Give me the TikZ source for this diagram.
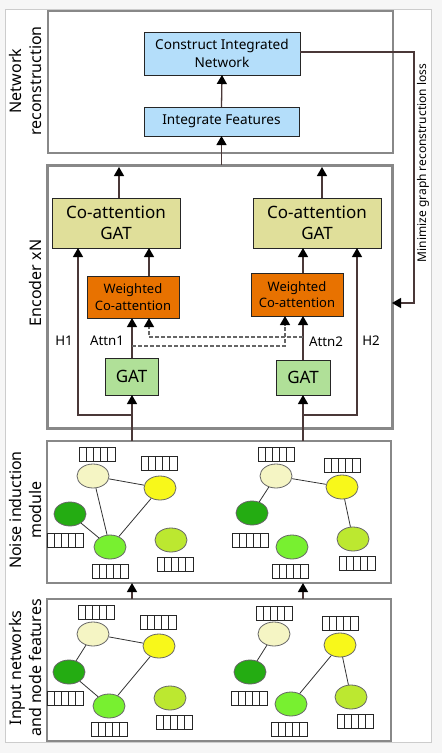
\documentclass[tikz,border=0pt]{standalone}
\usepackage{fontspec}
\setmainfont{Noto Sans}
\usetikzlibrary{arrows.meta,shapes.geometric,calc}
\definecolor{bgout}{HTML}{F6F6F6}
\definecolor{frameg}{HTML}{CCCCCC}
\definecolor{boxg}{HTML}{888888}
\definecolor{blu}{HTML}{B4DEFA}
\definecolor{kha}{HTML}{E0DF9A}
\definecolor{ora}{HTML}{E87200}
\definecolor{gatg}{HTML}{B0E098}
\definecolor{lnk}{HTML}{4A3838}
\definecolor{cpale}{HTML}{F5F5C4}
\definecolor{cyel}{HTML}{F8F81A}
\definecolor{cdg}{HTML}{24AC12}
\definecolor{clg}{HTML}{78F030}
\definecolor{cyg}{HTML}{BCE830}
\begin{document}
\begin{tikzpicture}[x=1pt,y=-1pt,
  fs/.style 2 args={font=\fontsize{#1}{#2}\selectfont},
  modbox/.style={draw=boxg, line width=2pt, outer sep=0pt, inner sep=0pt},
  cbox/.style={draw=black!85, line width=0.8pt, inner sep=0pt, align=center, outer sep=0pt},
  arr/.style={draw=lnk, line width=1.3pt, -{Triangle[width=10pt,length=9pt,color=black]}},
  dsh/.style={draw=black!60, line width=1.3pt, dash pattern=on 4pt off 2pt},
  darr/.style={dsh, -{Triangle[width=10pt,length=9pt,color=black]}},
  gnode/.style={ellipse, draw=black!60, line width=0.8pt, minimum width=32pt, minimum height=24pt, inner sep=0pt},
  gedge/.style={draw=black!80, line width=0.8pt},
  feat/.pic={\draw[black!85, line width=0.8pt] (-18,-7) rectangle (18,7);
    \foreach \i in {1,...,4} \draw[black!85, line width=0.8pt] (-18+7.2*\i,-7) -- ++(0,14);}
]
% background
\fill[bgout] (0,0) rectangle (442,753);
\useasboundingbox (0,0) rectangle (442,753);
\draw[frameg, fill=white, line width=1pt] (5,9) rectangle (431,742);

% module boxes
\node[modbox, minimum width=345pt, minimum height=142pt] (rec) at (220.5,82) {};
\node[modbox, line width=3pt, minimum width=345pt, minimum height=263pt] (enc) at (219.5,296.5) {};
\node[modbox, minimum width=344pt, minimum height=142pt] (noise) at (219,512) {};
\node[modbox, minimum width=344pt, minimum height=142pt] (inp) at (219,670) {};

% left labels
\node[fs={16}{20}, rotate=90, align=center] (lrec) at (25,81) {Network\\reconstruction};
\node[fs={16}{20}, rotate=90] (lenc) at (35,283) {Encoder xN};
\node[fs={16}{20}, rotate=90, align=center] (lnoise) at (25,510) {Noise induction\\module};
\node[fs={16}{20}, rotate=90, align=center] (linp) at (25,668) {Input networks\\and node features};

% reconstruction boxes
\node[cbox, fill=blu, fs={13.6}{18}, minimum width=156pt, minimum height=43pt] (cin) at (222,53.5) {Construct Integrated\\Network};
\node[cbox, fill=blu, fs={13.6}{18}, minimum width=155pt, minimum height=29pt] (intf) at (221.5,121.5) {Integrate Features};
\draw[arr] (intf.north) -- (cin.south);
\draw[arr] (enc.north -| intf.south) -- (intf.south);

% encoder boxes
\node[cbox, fill=kha, fs={17}{21}, minimum width=128pt, minimum height=50pt] (coL) at (116,223) {Co-attention\\GAT};
\node[cbox, fill=kha, fs={17}{21}, minimum width=128pt, minimum height=50pt] (coR) at (317,223) {Co-attention\\GAT};
\node[cbox, fill=ora, fs={13}{16.5}, minimum width=92pt, minimum height=42pt] (wL) at (133,297) {Weighted\\Co-attention};
\node[cbox, fill=ora, fs={13}{16.5}, minimum width=92pt, minimum height=43pt] (wR) at (297,294.5) {Weighted\\Co-attention};
\node[cbox, fill=gatg, fs={17}{20}, minimum width=53pt, minimum height=37pt] (gL) at (131.5,376.5) {GAT};
\node[cbox, fill=gatg, fs={17}{20}, minimum width=54pt, minimum height=35pt] (gR) at (303,377.5) {GAT};

% co-attention outputs
\draw[arr, shorten >=2pt] (coL.north -| 119,0) -- (enc.north -| 119,0);
\draw[arr, shorten >=2pt] (coR.north -| 322,0) -- (enc.north -| 322,0);
% weighted -> co-attention
\draw[arr] (wL.north -| 149,0) -- (coL.south -| 149,0);
\draw[arr] (wR.north -| 303,0) -- (coR.south -| 303,0);
% GAT -> weighted
\draw[arr] (gL.north -| 132,0) -- (wL.south -| 132,0);
\draw[arr] (gR.north -| 303,0) -- (wR.south -| 303,0);
% cross attention (dashed)
\coordinate (a2) at (303,337);
\coordinate (a1) at (132,346);
\draw[darr] (a2) -- (149,337) -- (wL.south -| 149,0);
\draw[darr] (a1) -- (285,346) -- (wR.south -| 285,0);
% residual H paths
\coordinate (hL) at (132,415);
\coordinate (hR) at (303,415);
\draw[arr] (hL) -- (78,415) -- (coL.south -| 78,0);
\draw[arr] (hR) -- (357,415) -- (coR.south -| 357,0);
% inputs into GAT
\draw[arr] (noise.north -| 132,0) -- (gL.south -| 132,0);
\draw[arr] (noise.north -| 303,0) -- (gR.south -| 303,0);
% input -> noise
\draw[arr] (inp.north -| 132,0) -- (noise.south -| 132,0);
\draw[arr] (inp.north -| 303,0) -- (noise.south -| 303,0);

% labels
\node[fs={13.3}{15}] (lh1) at (64,341) {H1};
\node[fs={13.3}{15}] (la1) at (107,341) {Attn1};
\node[fs={13.3}{15}] (la2) at (326,342) {Attn2};
\node[fs={13.3}{15}] (lh2) at (371,341) {H2};

% feedback loss
\coordinate (fb1) at (414,52);
\coordinate (fb2) at (414,303);
\draw[draw=lnk, line width=1.3pt, -{Triangle[width=10pt,length=9pt,color=black]}] (cin.east |- fb1) -- (fb1) -- (fb2) -- (enc.east |- fb2);
\node[fs={12}{15}, rotate=90] (lloss) at (423,163) {Minimize graph reconstruction loss};

% ---- noise module graphs ----
\node[gnode, fill=cpale] (npa) at (93,476) {};
\node[gnode, fill=cyel] (nye) at (160,488) {};
\node[gnode, fill=cdg] (ndg) at (70,514) {};
\node[gnode, fill=clg] (nlg) at (110,547) {};
\node[gnode, fill=cyg] (nyg) at (171,540) {};
\draw[gedge] (npa) -- (nye);
\draw[gedge] (npa) -- (nlg);
\draw[gedge] (nye) -- (nlg);
\draw[gedge] (ndg) -- (nlg);
\pic at (97,454) {feat};
\pic at (159,463) {feat};
\pic at (65,540) {feat};
\pic at (110,571) {feat};
\pic at (175,564) {feat};

\node[gnode, fill=cpale] (mpa) at (276,476) {};
\node[gnode, fill=cyel] (mye) at (342,487) {};
\node[gnode, fill=cdg] (mdg) at (252,513) {};
\node[gnode, fill=clg] (mlg) at (292,547) {};
\node[gnode, fill=cyg] (myg) at (353,539) {};
\draw[gedge] (mpa) -- (mye);
\draw[gedge] (mpa) -- (mdg);
\draw[gedge] (mye) -- (myg);
\pic at (276,454) {feat};
\pic at (342,465) {feat};
\pic at (250,540) {feat};
\pic at (290,571) {feat};
\pic at (357,563) {feat};

% ---- input graphs ----
\node[gnode, fill=cpale] (ipa) at (93,634) {};
\node[gnode, fill=cyel] (iye) at (159,646) {};
\node[gnode, fill=cdg] (idg) at (69,672) {};
\node[gnode, fill=clg] (ilg) at (109,706) {};
\node[gnode, fill=cyg] (iyg) at (170,698) {};
\draw[gedge] (ipa) -- (iye);
\draw[gedge] (ipa) -- (idg);
\draw[gedge] (idg) -- (ilg);
\draw[gedge] (iye) -- (ilg);
\pic at (96,612) {feat};
\pic at (158,622) {feat};
\pic at (65,698) {feat};
\pic at (109,729) {feat};
\pic at (174,722) {feat};

\node[gnode, fill=cpale] (jpa) at (274,634) {};
\node[gnode, fill=cyel] (jye) at (340,645) {};
\node[gnode, fill=cdg] (jdg) at (250,672) {};
\node[gnode, fill=clg] (jlg) at (291,704) {};
\node[gnode, fill=cyg] (jyg) at (351,697) {};
\draw[gedge] (jpa) -- (jdg);
\draw[gedge] (jye) -- (jlg);
\draw[gedge] (jye) -- (jyg);
\pic at (274,613) {feat};
\pic at (340,623) {feat};
\pic at (249,698) {feat};
\pic at (289,729) {feat};
\pic at (355,721) {feat};
\end{tikzpicture}
\end{document}
